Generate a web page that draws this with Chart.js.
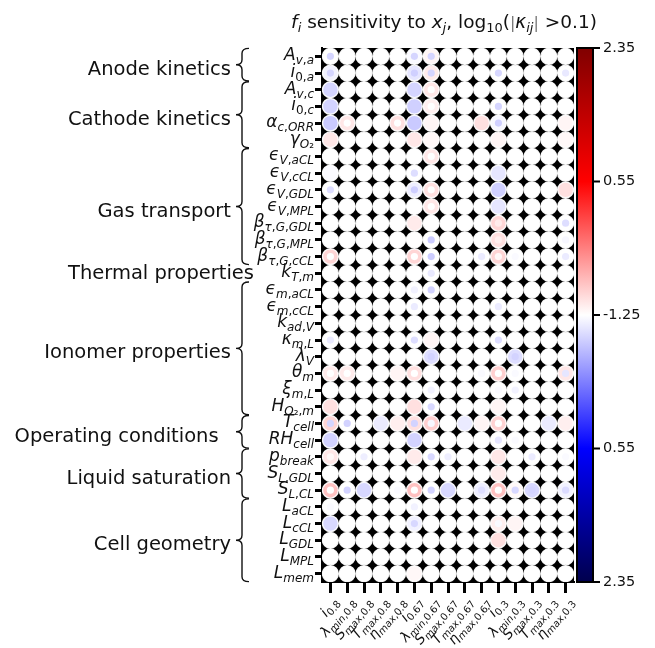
<!DOCTYPE html>
<html>
<head>
<meta charset="utf-8">
<script src="https://cdn.jsdelivr.net/npm/chart.js@4.4.1/dist/chart.umd.min.js"></script>
<style>
  html, body { margin: 0; padding: 0; background: #fff; }
  #wrap { width: 655px; height: 648px; position: relative; }
</style>
</head>
<body>
<div id="wrap"><canvas id="c"></canvas></div>
<script>
// Model inputs x_j (rows): symbol and subscript
const paramSymbols = ['A','i','A','i','α','γ','ϵ','ϵ','ϵ','ϵ','β','β','β','k','ϵ','ϵ',
                      'k','κ','λ','θ','ξ','H','T','RH','p','S','S','L','L','L','L','L'];
const paramSubs = ['v,a','0,a','v,c','0,c','c,ORR','O₂','V,aCL','V,cCL','V,GDL','V,MPL',
                   'τ,G,GDL','τ,G,MPL','τ,G,cCL','T,m','m,aCL','m,cCL','ad,V','m,L','V','m',
                   'm,L','O₂,m','cell','cell','break','L,GDL','L,CL','aCL','cCL','GDL','MPL','mem'];

// Model outputs f_i (columns)
const outputSymbols = ['i','λ','S','T','η','i','λ','S','T','η','i','λ','S','T','η'];
const outputSubs = ['0.8','min,0.8','max,0.8','max,0.8','max,0.8',
                    '0.67','min,0.67','max,0.67','max,0.67','max,0.67',
                    '0.3','min,0.3','max,0.3','max,0.3','max,0.3'];

// Parameter groups (first and last row of each)
const groupNames = ['Anode kinetics','Cathode kinetics','Gas transport','Thermal properties',
                    'Ionomer properties','Operating conditions  ','Liquid saturation','Cell geometry'];
const groupFirst = [0, 2, 6, 13, 14, 22, 24, 27];
const groupLast  = [1, 5, 12, 13, 21, 23, 26, 31];

// Colour bar: signed side and |log10 kappa| tick values
const colorbarTickValues = [2.35, 0.55, -1.25, 0.55, 2.35];
const colorbarTickSides  = [1, 1, 0, -1, -1];
const LOG_MIN = -1.25, LOG_MAX = 2.35;

// Signed sensitivities kappa_ij, [row, column, kappa]; cells not listed are ~0
const kappaOuter = [
  [0,5,-0.061],[0,6,0.0664],
  [1,0,-0.0695],[1,5,-0.0845],[1,6,0.0783],
  [2,0,-0.111],[2,5,-0.111],[2,6,0.0837],
  [3,0,-0.115],[3,5,-0.12],[3,6,0.0731],
  [4,0,-0.1325],[4,1,0.0837],[4,4,0.0929],[4,5,-0.1325],[4,6,0.0664],[4,9,0.0929],[4,10,-0.0645],[4,14,0.0664],
  [5,0,0.0837],[5,5,0.0837],[5,6,0.0626],[5,10,0.0664],[5,14,0.0626],
  [6,6,0.0837],
  [7,0,-0.061],[7,10,-0.0845],
  [8,5,-0.0736],[8,6,0.0929],[8,10,-0.12],[8,14,0.0929],
  [9,6,0.0837],[9,10,-0.0845],
  [10,5,0.0783],[10,10,0.109],
  [11,10,0.0929],
  [12,0,0.109],[12,5,0.109],[12,10,0.109],
  [17,6,0.0664],
  [18,6,-0.0964],[18,11,-0.0964],
  [19,0,0.0783],[19,1,0.0783],[19,4,0.0664],[19,5,0.0929],[19,10,0.123],[19,14,0.0837],
  [21,0,0.0929],[21,5,0.0929],[21,10,0.0664],
  [22,0,0.109],[22,3,-0.0777],[22,4,0.0731],[22,5,0.0929],[22,6,0.123],[22,8,-0.0777],[22,9,0.0664],
  [22,10,0.116],[22,13,-0.0777],[22,14,0.0731],
  [23,0,-0.115],[23,5,-0.115],
  [24,0,0.0837],[24,5,0.0783],[24,10,0.0837],
  [25,10,0.0783],
  [26,0,0.155],[26,2,-0.106],[26,5,0.155],[26,7,-0.106],[26,9,-0.0736],[26,10,0.155],[26,11,0.0626],
  [26,12,-0.106],[26,14,-0.0695],
  [28,0,-0.106],[28,5,-0.0695],[28,10,0.0731],[28,11,0.0664],
  [29,10,0.0929],
  [31,5,0.0626]
];

// Core sensitivities drawn as a centre dot, [row, column, kappa]
const kappaInner = [
  [0,0,-0.111],[0,5,-0.111],[0,6,-0.111],
  [1,0,-0.111],[1,5,-0.12],[1,6,-0.111],[1,10,-0.106],[1,14,-0.081],
  [2,6,0],
  [3,6,0],[3,10,-0.111],
  [4,1,0],[4,4,0],[4,10,-0.12],
  [6,6,0],
  [7,5,-0.0964],
  [8,0,-0.0964],[8,5,-0.124],[8,6,0],
  [9,6,0],
  [10,10,0.0783],[10,14,-0.0964],
  [11,6,-0.128],[11,10,0.0731],[11,14,-0.0645],
  [12,0,0],[12,5,0],[12,6,-0.128],[12,9,-0.0777],[12,10,0.0626],[12,11,-0.061],[12,14,-0.0777],
  [13,6,-0.081],
  [14,5,-0.0695],[14,6,-0.115],
  [15,5,-0.0777],[15,10,-0.0777],
  [17,0,-0.0777],[17,5,-0.0964],[17,10,-0.0964],
  [18,6,-0.115],[18,11,-0.115],
  [19,0,0],[19,1,0],[19,5,0],[19,9,-0.061],[19,10,0],[19,11,-0.061],[19,14,-0.0845],
  [20,6,-0.0695],[20,10,-0.061],[20,11,-0.0695],
  [21,6,-0.106],
  [22,0,-0.111],[22,1,-0.115],[22,5,-0.115],[22,6,-0.0645],[22,10,0],
  [23,10,-0.0845],[23,11,-0.061],
  [24,0,0.0626],[24,2,-0.0736],[24,6,-0.106],[24,7,-0.0736],[24,12,-0.0777],[24,14,-0.061],
  [26,0,0],[26,1,-0.115],[26,4,-0.061],[26,5,0],[26,6,-0.115],[26,9,-0.0964],[26,10,0],
  [26,11,-0.106],[26,12,-0.115],[26,14,-0.101],
  [27,0,-0.061],[27,5,-0.0695],
  [28,5,-0.106],[28,10,-0.061]
];

const TEXT = '#111';
const FONT = '"DejaVu Sans", "Liberation Sans", sans-serif';

// matplotlib "seismic" colour map
function seismic(t) {
  const stops = [[0,[0,0,77]],[0.25,[0,0,255]],[0.5,[255,255,255]],[0.75,[255,0,0]],[1,[128,0,0]]];
  t = Math.min(1, Math.max(0, t));
  for (let i = 1; i < stops.length; i++) {
    if (t <= stops[i][0]) {
      const [t0, c0] = stops[i-1], [t1, c1] = stops[i];
      const f = (t - t0) / (t1 - t0);
      const c = c0.map((v, j) => Math.round(v + (c1[j] - v) * f));
      return `rgb(${c[0]},${c[1]},${c[2]})`;
    }
  }
  return 'rgb(128,0,0)';
}
function signedPos(logv, side) {
  const m = Math.min(Math.max(logv, LOG_MIN), LOG_MAX);
  return side * (m - LOG_MIN) / (LOG_MAX - LOG_MIN);
}
function kappaColor(k) {
  if (!k) return 'rgb(255,255,255)';
  return seismic(0.5 + signedPos(Math.log10(Math.abs(k)), Math.sign(k)) / 2);
}

// full grid of cells with their outer sensitivity
const outerLookup = {};
kappaOuter.forEach(([r, c, k]) => { outerLookup[r + ':' + c] = k; });
const gridPoints = [];
paramSymbols.forEach((_, r) => outputSymbols.forEach((_, c) => {
  gridPoints.push({ x: c, y: r, k: outerLookup[r + ':' + c] || 0 });
}));
const innerPoints = kappaInner.map(([r, c, k]) => ({ x: c, y: r, k }));

// --- rich text helpers (symbol + subscript) ---
function mathRuns(str, size) {
  // letters italic, digits and punctuation upright
  const runs = [];
  const re = /([A-Za-zα-ωϵ]+)|([^A-Za-zα-ωϵ]+)/g;
  let m;
  while ((m = re.exec(str))) {
    runs.push({ t: m[0], font: (m[1] ? 'italic ' : '') + size + 'px ' + FONT });
  }
  return runs;
}
function labelParts(sym, sub, baseSize, subSize, drop) {
  const parts = [{ t: sym, font: 'italic ' + baseSize + 'px ' + FONT }];
  mathRuns(sub, subSize).forEach(p => { p.dy = drop; parts.push(p); });
  return parts;
}
function richWidth(ctx, parts) {
  let w = 0;
  parts.forEach(p => { ctx.font = p.font; w += ctx.measureText(p.t).width; });
  return w;
}
function drawRich(ctx, parts, x, y, align) {
  const w = richWidth(ctx, parts);
  let cx = align === 'right' ? x - w : align === 'center' ? x - w / 2 : x;
  ctx.textAlign = 'left';
  ctx.textBaseline = 'alphabetic';
  parts.forEach(p => {
    ctx.font = p.font;
    ctx.fillStyle = p.color || TEXT;
    ctx.fillText(p.t, cx, y + (p.dy || 0));
    cx += ctx.measureText(p.t).width;
  });
}

function drawBrace(ctx, xTip, y1, y2) {
  const xs = xTip + 6, xe = xTip + 13, r = 5, ym = (y1 + y2) / 2;
  ctx.beginPath();
  ctx.moveTo(xe, y1);
  ctx.quadraticCurveTo(xs, y1, xs, y1 + r);
  ctx.lineTo(xs, ym - r);
  ctx.quadraticCurveTo(xs, ym, xTip, ym);
  ctx.quadraticCurveTo(xs, ym, xs, ym + r);
  ctx.lineTo(xs, y2 - r);
  ctx.quadraticCurveTo(xs, y2, xe, y2);
  ctx.stroke();
}

const plotBackground = {
  id: 'plotBackground',
  beforeDraw(chart) {
    const { ctx, chartArea: a } = chart;
    ctx.save();
    ctx.fillStyle = '#000';
    ctx.fillRect(a.left, a.top, a.right - a.left, a.bottom - a.top);
    ctx.restore();
  }
};

const annotations = {
  id: 'annotations',
  afterDraw(chart) {
    const { ctx, chartArea: a, scales: { x, y } } = chart;
    ctx.save();

    // title
    const T = 18.5, S = 13;
    drawRich(ctx, [
      { t: 'f', font: 'italic ' + T + 'px ' + FONT },
      { t: 'i', font: 'italic ' + S + 'px ' + FONT, dy: 4 },
      { t: ' sensitivity to ', font: T + 'px ' + FONT },
      { t: 'x', font: 'italic ' + T + 'px ' + FONT },
      { t: 'j', font: 'italic ' + S + 'px ' + FONT, dy: 4 },
      { t: ', log', font: T + 'px ' + FONT },
      { t: '10', font: S + 'px ' + FONT, dy: 4 },
      { t: '(', font: T + 'px ' + FONT },
      { t: '|', font: '16px ' + FONT, color: '#777' },
      { t: 'κ', font: 'italic ' + T + 'px ' + FONT },
      { t: 'ij', font: 'italic ' + S + 'px ' + FONT, dy: 4 },
      { t: '|', font: '16px ' + FONT, color: '#777' },
      { t: ' >0.1)', font: T + 'px ' + FONT }
    ], (a.left + a.right) / 2 - 4, 28, 'center');

    // row labels
    paramSymbols.forEach((sym, r) => {
      const yy = y.getPixelForValue(r);
      drawRich(ctx, labelParts(sym, paramSubs[r], 17, 12, 4), a.left - 8, yy + 4, 'right');
    });

    // column labels, rotated
    outputSymbols.forEach((sym, c) => {
      const xx = x.getPixelForValue(c);
      ctx.save();
      ctx.translate(xx + 5, a.bottom + 17);
      ctx.rotate(-50 * Math.PI / 180);
      drawRich(ctx, labelParts(sym, outputSubs[c], 14, 10, 3), 0, 5, 'right');
      ctx.restore();
    });

    // group names and braces
    ctx.strokeStyle = TEXT;
    ctx.lineWidth = 1.4;
    groupNames.forEach((name, g) => {
      const y1 = y.getPixelForValue(groupFirst[g]);
      const y2 = y.getPixelForValue(groupLast[g]);
      const ym = (y1 + y2) / 2;
      ctx.font = '19.5px ' + FONT;
      ctx.fillStyle = TEXT;
      ctx.textAlign = 'right';
      ctx.textBaseline = 'alphabetic';
      if (groupFirst[g] === groupLast[g]) {
        ctx.fillText(name, 254, ym + 6);
      } else {
        ctx.fillText(name, 231, ym + 10);
        drawBrace(ctx, 236, y1 - 8, y2 + 8);
      }
    });

    // colour bar
    const cx0 = 577, cx1 = 593, cy0 = a.top, cy1 = a.bottom;
    const grad = ctx.createLinearGradient(0, cy0, 0, cy1);
    for (let i = 0; i <= 20; i++) grad.addColorStop(i / 20, seismic(1 - i / 20));
    ctx.fillStyle = grad;
    ctx.fillRect(cx0, cy0, cx1 - cx0, cy1 - cy0);
    ctx.strokeStyle = '#000';
    ctx.lineWidth = 2;
    ctx.strokeRect(cx0, cy0, cx1 - cx0, cy1 - cy0);
    const cMid = (cy0 + cy1) / 2, half = (cy1 - cy0) / 2;
    ctx.font = '14.5px ' + FONT;
    ctx.textAlign = 'left';
    ctx.textBaseline = 'middle';
    colorbarTickValues.forEach((v, i) => {
      const yy = cMid - signedPos(v, colorbarTickSides[i]) * half;
      ctx.beginPath();
      ctx.moveTo(cx1, yy);
      ctx.lineTo(cx1 + 7, yy);
      ctx.stroke();
      ctx.fillStyle = TEXT;
      ctx.fillText(v.toFixed(2), cx1 + 10, yy);
    });

    ctx.restore();
  }
};

function cellRadius(chart) {
  const xs = chart.scales.x;
  return (xs.getPixelForValue(1) - xs.getPixelForValue(0)) / 2 - 0.5;
}

new Chart(document.getElementById('c'), {
  type: 'scatter',
  data: {
    datasets: [
      {
        label: 'core',
        data: innerPoints,
        order: 0,
        pointRadius: 3.6,
        pointBorderWidth: 0,
        pointBackgroundColor: ctx => kappaColor(ctx.raw ? ctx.raw.k : 0),
        pointBorderColor: 'rgba(0,0,0,0)'
      },
      {
        label: 'cells',
        data: gridPoints,
        order: 1,
        pointRadius: ctx => cellRadius(ctx.chart),
        pointBorderWidth: 1.4,
        pointBorderColor: 'rgba(255,255,255,0.95)',
        pointBackgroundColor: ctx => kappaColor(ctx.raw ? ctx.raw.k : 0)
      }
    ]
  },
  options: {
    responsive: true,
    maintainAspectRatio: false,
    animation: false,
    events: [],
    layout: { padding: { left: 315, right: 81, top: 48, bottom: 55 } },
    plugins: { legend: { display: false }, tooltip: { enabled: false }, title: { display: false } },
    scales: {
      x: {
        type: 'linear',
        min: -0.5, max: outputSymbols.length - 0.5,
        afterBuildTicks: s => { s.ticks = outputSymbols.map((_, i) => ({ value: i })); },
        afterFit: s => { s.height = 11; },
        ticks: { display: false },
        grid: { drawOnChartArea: false, drawTicks: true, tickLength: 11, tickWidth: 3, color: '#000' },
        border: { display: true, color: '#000', width: 2 }
      },
      y: {
        type: 'linear',
        reverse: true,
        min: -0.5, max: paramSymbols.length - 0.5,
        afterBuildTicks: s => { s.ticks = paramSymbols.map((_, i) => ({ value: i })); },
        afterFit: s => { s.width = 7; },
        ticks: { display: false },
        grid: { drawOnChartArea: false, drawTicks: true, tickLength: 7, tickWidth: 3, color: '#000' },
        border: { display: true, color: '#000', width: 2 }
      }
    }
  },
  plugins: [plotBackground, annotations]
});
</script>
</body>
</html>
